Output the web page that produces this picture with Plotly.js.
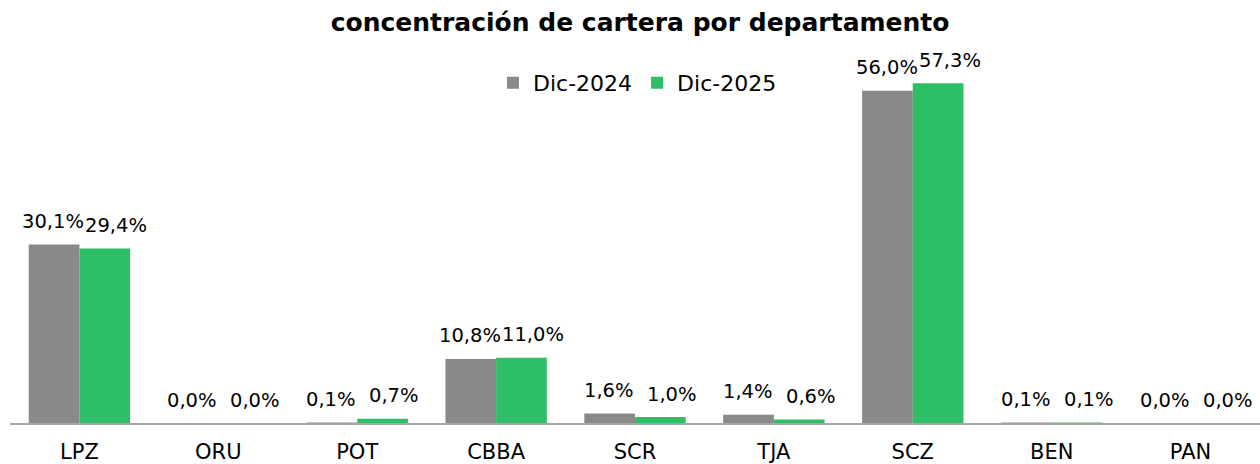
<!DOCTYPE html>
<html>
<head>
<meta charset="utf-8">
<script src="https://cdn.plot.ly/plotly-3.0.1.min.js"></script>
<style>html,body{margin:0;padding:0;background:#fff;}#chart{width:1260px;height:464px;}</style>
</head>
<body>
<div id="chart"></div>
<script>
const categories = ["LPZ","ORU","POT","CBBA","SCR","TJA","SCZ","BEN","PAN"];
const dic2024 = [30.1, 0.0, 0.1, 10.8, 1.6, 1.4, 56.0, 0.1, 0.0];
const dic2025 = [29.4, 0.0, 0.7, 11.0, 1.0, 0.6, 57.3, 0.1, 0.0];
const seriesNames = ["Dic-2024","Dic-2025"];
const seriesColors = ["#898989", "#2dbf66"];
const titleText = "concentración de cartera por departamento";

const FONT = "'DejaVu Sans', 'Noto Sans', sans-serif";
const labelFont = {family: FONT, size: 19.5, color: "#000"};
const tickFont = {family: FONT, size: 21, color: "#000"};

const series = [dic2024, dic2025];
const data = series.map((vals, i) => ({
  type: "bar", name: seriesNames[i], x: categories, y: vals,
  marker: {color: seriesColors[i]}, hoverinfo: "skip", cliponaxis: false
}));

// Data labels: anchored to each bar's value through the axes, offset to the bar's slot in the group
const fmt = v => v.toFixed(1).replace(".", ",") + "%";
const slotShift = [-26, 37];
const annotations = [];
series.forEach((vals, i) => {
  vals.forEach((v, j) => {
    annotations.push({
      x: categories[j], y: v, xref: "x", yref: "y",
      text: fmt(v), showarrow: false,
      xanchor: "center", yanchor: "middle",
      xshift: slotShift[i], yshift: 23,
      font: labelFont
    });
  });
});

const layout = {
  width: 1260, height: 464,
  margin: {l: 10, r: 0, t: 60, b: 41},
  paper_bgcolor: "#fff", plot_bgcolor: "#fff",
  barmode: "group", bargap: 0.27, bargroupgap: 0,
  title: {text: "<b>" + titleText + "</b>", x: 0.508, xanchor: "center", y: 0.953, yanchor: "middle",
          font: {family: FONT, size: 25, color: "#000"}},
  legend: {orientation: "h", x: 0.502, xanchor: "center", y: 0.937, yanchor: "middle",
           font: {family: FONT, size: 22, color: "#000"},
           itemwidth: 30, traceorder: "normal", bgcolor: "rgba(0,0,0,0)"},
  annotations: annotations,
  xaxis: {showline: true, linecolor: "#a6a6a6", linewidth: 2, ticks: "", ticklabelstandoff: 9,
          tickfont: tickFont, showgrid: false, zeroline: false, fixedrange: true},
  yaxis: {visible: false, range: [0, 61.2], fixedrange: true, showgrid: false, zeroline: false},
  showlegend: true
};
Plotly.newPlot("chart", data, layout, {displayModeBar: false, staticPlot: true});
</script>
</body>
</html>
